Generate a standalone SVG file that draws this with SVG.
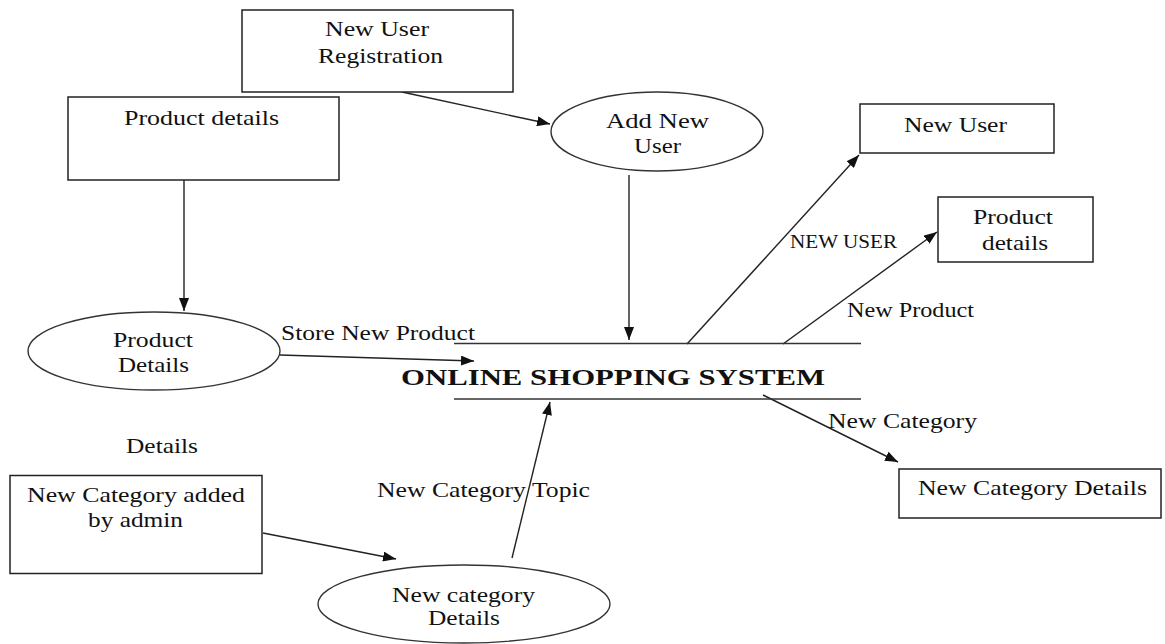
<svg xmlns="http://www.w3.org/2000/svg" width="1165" height="644" viewBox="0 0 1165 644">
  <style>
    .box { fill: #fff; stroke: #222; stroke-width: 1.5; }
    .proc { fill: #fff; stroke: #333; stroke-width: 1.4; }
    .flow { fill: none; stroke: #222; stroke-width: 1.4; marker-end: url(#arrow); }
    .rule { fill: none; stroke: #333; stroke-width: 1.6; }
    text { font-family: "Liberation Serif", "Times New Roman", serif; font-size: 22px; fill: #111; }
    .small { font-size: 18px; }
    .title { font-weight: bold; font-size: 23px; }
  </style>
  <defs>
    <marker id="arrow" viewBox="0 0 13 10" refX="13" refY="5" markerWidth="13" markerHeight="10" markerUnits="userSpaceOnUse" orient="auto">
      <path d="M0,0 L13,5 L0,10 z" fill="#111"/>
    </marker>
  </defs>

  <rect width="1165" height="644" fill="#fff"/>

  <!-- connectors -->
  <g id="connectors">
    <line class="flow" x1="402" y1="92" x2="550" y2="124"/>
    <line class="flow" x1="184" y1="180" x2="184" y2="311"/>
    <line class="flow" x1="629" y1="175" x2="629" y2="340"/>
    <line class="flow" x1="280" y1="355" x2="474" y2="361"/>
    <line class="flow" x1="687" y1="344" x2="859" y2="155"/>
    <line class="flow" x1="783" y1="344" x2="937" y2="232"/>
    <line class="flow" x1="763" y1="395" x2="898" y2="462"/>
    <line class="flow" x1="263" y1="533" x2="396" y2="559"/>
    <line class="flow" x1="512" y1="558" x2="550" y2="402"/>
    <text x="281" y="340" textLength="194" lengthAdjust="spacingAndGlyphs">Store New Product</text>
    <text class="small" x="790" y="248" textLength="107" lengthAdjust="spacingAndGlyphs">NEW USER</text>
    <text x="847" y="317" textLength="127" lengthAdjust="spacingAndGlyphs">New Product</text>
    <text x="828" y="428" textLength="149" lengthAdjust="spacingAndGlyphs">New Category</text>
    <text x="377" y="497" textLength="213" lengthAdjust="spacingAndGlyphs">New Category Topic</text>
    <text x="126" y="453" textLength="72" lengthAdjust="spacingAndGlyphs">Details</text>
  </g>

  <!-- central data store -->
  <g id="online-shopping-system">
    <line class="rule" x1="454" y1="343.5" x2="861" y2="343.5"/>
    <line class="rule" x1="454" y1="399" x2="861" y2="399"/>
    <text class="title" x="401" y="385" textLength="424" lengthAdjust="spacingAndGlyphs">ONLINE SHOPPING SYSTEM</text>
  </g>

  <g id="new-user-registration">
    <rect class="box" x="242" y="10" width="271" height="82"/>
    <text x="325" y="36" textLength="104" lengthAdjust="spacingAndGlyphs">New User</text>
    <text x="318" y="63" textLength="125" lengthAdjust="spacingAndGlyphs">Registration</text>
  </g>

  <g id="product-details-source">
    <rect class="box" x="68" y="97" width="271" height="83"/>
    <text x="124" y="125" textLength="155" lengthAdjust="spacingAndGlyphs">Product details</text>
  </g>

  <g id="add-new-user">
    <ellipse class="proc" cx="657" cy="131.5" rx="106" ry="39.5"/>
    <text x="606" y="128" textLength="103" lengthAdjust="spacingAndGlyphs">Add New</text>
    <text x="634" y="153" textLength="47" lengthAdjust="spacingAndGlyphs">User</text>
  </g>

  <g id="new-user">
    <rect class="box" x="860" y="104" width="194" height="49"/>
    <text x="904" y="132" textLength="103" lengthAdjust="spacingAndGlyphs">New User</text>
  </g>

  <g id="product-details-sink">
    <rect class="box" x="938" y="197" width="155" height="65"/>
    <text x="973" y="224" textLength="80" lengthAdjust="spacingAndGlyphs">Product</text>
    <text x="982" y="250" textLength="66" lengthAdjust="spacingAndGlyphs">details</text>
  </g>

  <g id="product-details-process">
    <ellipse class="proc" cx="154" cy="351" rx="126" ry="39"/>
    <text x="113" y="347" textLength="80" lengthAdjust="spacingAndGlyphs">Product</text>
    <text x="118" y="372" textLength="71" lengthAdjust="spacingAndGlyphs">Details</text>
  </g>

  <g id="new-category-details">
    <rect class="box" x="899" y="469" width="262" height="49"/>
    <text x="918" y="495" textLength="229" lengthAdjust="spacingAndGlyphs">New Category Details</text>
  </g>

  <g id="new-category-admin">
    <rect class="box" x="10" y="475.5" width="252" height="98"/>
    <text x="27" y="502" textLength="218" lengthAdjust="spacingAndGlyphs">New Category added</text>
    <text x="88" y="527" textLength="95" lengthAdjust="spacingAndGlyphs">by admin</text>
  </g>

  <g id="new-category-process">
    <ellipse class="proc" cx="464" cy="604" rx="146" ry="39"/>
    <text x="392" y="602" textLength="143" lengthAdjust="spacingAndGlyphs">New category</text>
    <text x="428" y="625" textLength="72" lengthAdjust="spacingAndGlyphs">Details</text>
  </g>
</svg>
